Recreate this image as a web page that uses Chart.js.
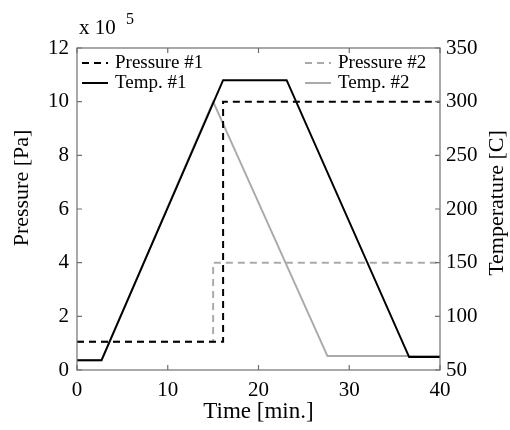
<!DOCTYPE html>
<html>
<head>
<meta charset="utf-8">
<script src="https://cdn.jsdelivr.net/npm/chart.js@4"></script>
<style>
  body { margin: 0; background: #fff; }
  canvas { display: block; }
</style>
</head>
<body>
<canvas id="grafico" width="510" height="430"></canvas>
<script>
// datos
const tiempoTemp1 = [0, 2.7, 16.1, 23.1, 36.6, 40];
const temp1 = [59, 59, 320, 320, 62, 62];
const tiempoTemp2 = [0, 2.7, 15, 27.6, 40];
const temp2 = [59, 59, 300, 63, 63];
const tiempoPres1 = [0, 16.1, 16.1, 40];
const presion1 = [1.05, 1.05, 10, 10];
const tiempoPres2 = [0, 15, 15, 40];
const presion2 = [1.05, 1.05, 4, 4];

const ticksX = [0, 10, 20, 30, 40];
const ticksPres = [0, 2, 4, 6, 8, 10, 12];
const ticksTemp = [50, 100, 150, 200, 250, 300, 350];

const serie = (xs, ys) => xs.map((x, i) => ({ x: x, y: ys[i] }));
const fuente = '"Liberation Serif", "DejaVu Serif", serif';
const negro = '#000';
const gris = '#aaaaaa';

// marcas hacia adentro, marco, titulos verticales y leyenda
const extras = {
    id: 'extras',
    afterDatasetsDraw(chart) {
        const c = chart.ctx;
        const a = chart.chartArea;
        const sx = chart.scales.x, sp = chart.scales.yPres, st = chart.scales.yTemp;
        c.save();
        c.strokeStyle = '#707070';
        c.lineWidth = 1.2;
        c.strokeRect(a.left, a.top, a.right - a.left, a.bottom - a.top);
        c.beginPath();
        ticksX.forEach(v => {
            const p = sx.getPixelForValue(v);
            c.moveTo(p, a.bottom); c.lineTo(p, a.bottom - 5);
            c.moveTo(p, a.top); c.lineTo(p, a.top + 5);
        });
        ticksPres.forEach(v => {
            const p = sp.getPixelForValue(v);
            c.moveTo(a.left, p); c.lineTo(a.left + 5, p);
        });
        ticksTemp.forEach(v => {
            const p = st.getPixelForValue(v);
            c.moveTo(a.right, p); c.lineTo(a.right - 5, p);
        });
        c.stroke();

        // titulos de los ejes verticales (ambos leidos de abajo hacia arriba)
        c.fillStyle = negro;
        c.font = '22px ' + fuente;
        c.textAlign = 'center';
        c.textBaseline = 'middle';
        [['Pressure [Pa]', 22, 188], ['Temperature [C]', 497, 203]].forEach(t => {
            c.save();
            c.translate(t[1], t[2]);
            c.rotate(-Math.PI / 2);
            c.fillText(t[0], 0, 0);
            c.restore();
        });

        // leyenda
        const items = [
            { t: 'Pressure #1', col: negro, dash: [7, 5], x: 82, y: 63 },
            { t: 'Temp. #1', col: negro, dash: [], x: 82, y: 83 },
            { t: 'Pressure #2', col: gris, dash: [7, 5], x: 305, y: 63 },
            { t: 'Temp. #2', col: gris, dash: [], x: 305, y: 83 }
        ];
        c.font = '19px ' + fuente;
        c.textAlign = 'left';
        items.forEach(it => {
            c.beginPath();
            c.setLineDash(it.dash);
            c.strokeStyle = it.col;
            c.lineWidth = 2;
            c.moveTo(it.x, it.y); c.lineTo(it.x + 26, it.y);
            c.stroke();
            c.fillText(it.t, it.x + 33, it.y);
        });
        c.setLineDash([]);

        // factor de escala
        c.font = '21px ' + fuente;
        c.textBaseline = 'alphabetic';
        c.fillText('x 10', 79, 34);
        c.font = '16px ' + fuente;
        c.fillText('5', 126, 24);
        c.restore();
    }
};

new Chart(document.getElementById('grafico').getContext('2d'), {
    type: 'line',
    data: {
        datasets: [
            { label: 'Pressure #1', data: serie(tiempoPres1, presion1), yAxisID: 'yPres',
              borderColor: negro, borderDash: [7, 5], borderWidth: 2 },
            { label: 'Temp. #1', data: serie(tiempoTemp1, temp1), yAxisID: 'yTemp',
              borderColor: negro, borderWidth: 2 },
            { label: 'Pressure #2', data: serie(tiempoPres2, presion2), yAxisID: 'yPres',
              borderColor: gris, borderDash: [7, 5], borderWidth: 2 },
            { label: 'Temp. #2', data: serie(tiempoTemp2, temp2), yAxisID: 'yTemp',
              borderColor: gris, borderWidth: 2 }
        ]
    },
    options: {
        responsive: false,
        animation: false,
        events: [],
        elements: { point: { radius: 0 }, line: { tension: 0, fill: false } },
        layout: { padding: { top: 48, right: 0, bottom: 0, left: 0 } },
        plugins: { legend: { display: false }, tooltip: { enabled: false } },
        scales: {
            x: {
                type: 'linear', min: 0, max: 40,
                afterFit: s => { s.height = 60; },
                afterBuildTicks: s => { s.ticks = ticksX.map(v => ({ value: v })); },
                grid: { display: false, drawTicks: false },
                border: { display: false },
                ticks: { color: negro, font: { family: fuente, size: 21 }, padding: 8, maxRotation: 0 },
                title: { display: true, text: 'Time [min.]', color: negro,
                         font: { family: fuente, size: 23 }, padding: { top: 0 } }
            },
            yPres: {
                type: 'linear', position: 'left', min: 0, max: 12,
                afterFit: s => { s.width = 77; },
                afterBuildTicks: s => { s.ticks = ticksPres.map(v => ({ value: v })); },
                grid: { display: false, drawTicks: false },
                border: { display: false },
                ticks: { color: negro, font: { family: fuente, size: 21 }, padding: 8 }
            },
            yTemp: {
                type: 'linear', position: 'right', min: 50, max: 350,
                afterFit: s => { s.width = 70; },
                afterBuildTicks: s => { s.ticks = ticksTemp.map(v => ({ value: v })); },
                grid: { display: false, drawTicks: false },
                border: { display: false },
                ticks: { color: negro, font: { family: fuente, size: 21 }, padding: 6 }
            }
        }
    },
    plugins: [extras]
});
</script>
</body>
</html>
